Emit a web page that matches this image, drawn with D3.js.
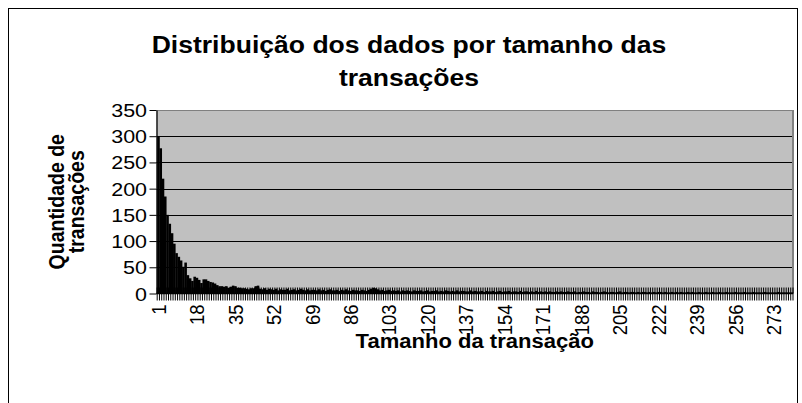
<!DOCTYPE html>
<html>
<head>
<meta charset="utf-8">
<script src="https://cdn.jsdelivr.net/npm/d3@7"></script>
<style>
  body { margin: 0; background: #fff; }
  text { font-family: "Liberation Sans", Arial, sans-serif; fill: #000; }
</style>
</head>
<body>
<svg id="chart"></svg>
<script>
// transaction sizes 1..281 and how many transactions of each size
var values = [
  300, 277, 219, 185, 150, 133, 115, 95, 77, 70,
  63, 51, 59, 35, 29, 24, 32, 30, 26, 20,
  27, 27, 24, 22, 21, 19, 16, 14, 14, 13,
  14, 11, 13, 15, 14, 11, 11, 10, 10, 9,
  8, 10, 10, 14, 15, 9, 8, 10, 7, 9,
  8, 7, 9, 6, 8, 7, 7, 9, 6, 7,
  8, 6, 7, 9, 7, 6, 8, 6, 7, 7,
  6, 8, 6, 7, 5, 7, 8, 6, 6, 7,
  5, 7, 6, 8, 6, 5, 7, 6, 6, 5,
  7, 6, 5, 7, 9, 11, 10, 8, 6, 7,
  5, 6, 7, 5, 6, 5, 6, 4, 6, 5,
  6, 5, 4, 6, 5, 5, 6, 4, 5, 6,
  4, 5, 5, 6, 4, 5, 4, 6, 5, 4,
  5, 4, 6, 4, 5, 5, 4, 4, 6, 4,
  5, 4, 4, 5, 3, 5, 4, 4, 5, 3,
  4, 5, 3, 4, 4, 5, 3, 4, 4, 3,
  5, 3, 4, 4, 3, 4, 3, 5, 3, 4,
  3, 4, 3, 4, 3, 3, 4, 3, 4, 3,
  3, 4, 3, 3, 4, 2, 3, 3, 4, 3,
  3, 2, 4, 3, 3, 2, 3, 4, 3, 2,
  3, 3, 2, 3, 4, 2, 3, 3, 2, 3,
  3, 2, 3, 2, 3, 3, 2, 3, 2, 3,
  2, 3, 3, 2, 3, 2, 2, 3, 2, 3,
  2, 3, 2, 2, 3, 2, 3, 2, 2, 3,
  2, 2, 3, 2, 2, 3, 2, 2, 3, 2,
  2, 3, 2, 2, 2, 3, 2, 2, 2, 3,
  2, 2, 2, 3, 2, 2, 2, 2, 3, 2,
  2, 2, 2, 2, 3, 2, 2, 2, 2, 2, 2
];
var categories = values.map(function(d, i){ return i + 1; });
var xTickLabels = [1, 18, 35, 52, 69, 86, 103, 120, 137, 154, 171, 188, 205, 222, 239, 256, 273];
var yTicks = [0, 50, 100, 150, 200, 250, 300, 350];

var width = 802;
var height = 403;
var sx = 1.13; // text in the picture is a bit wider than tall

var plot = {left: 156.5, right: 793, top: 110, bottom: 293.5};

var svg = d3.select('#chart')
            .attr('width', width)
            .attr('height', height);

// outer chart border
svg.append('rect')
   .attr('x', 8.5).attr('y', 8.5)
   .attr('width', 789).attr('height', 420)
   .attr('fill', '#fff')
   .attr('stroke', '#000')
   .attr('stroke-width', 1);

var x = d3.scaleBand()
          .domain(categories)
          .range([plot.left + 0.7, plot.right])
          .padding(0);

var y = d3.scaleLinear()
          .domain([0, 350])
          .range([plot.bottom, plot.top]);

// plot area
svg.append('rect')
   .attr('x', plot.left).attr('y', plot.top)
   .attr('width', plot.right - plot.left)
   .attr('height', plot.bottom - plot.top)
   .attr('fill', '#c0c0c0');

// gridlines
svg.selectAll('line.grid')
   .data(yTicks.filter(function(d){ return d > 0 && d < 350; }))
   .enter()
   .append('line')
   .attr('class', 'grid')
   .attr('x1', plot.left).attr('x2', plot.right)
   .attr('y1', function(d){ return Math.round(y(d)) + 0.5; })
   .attr('y2', function(d){ return Math.round(y(d)) + 0.5; })
   .attr('stroke', '#000');

// plot border top and right
svg.append('line')
   .attr('x1', plot.left).attr('x2', plot.right)
   .attr('y1', plot.top + 0.5).attr('y2', plot.top + 0.5)
   .attr('stroke', '#808080');
svg.append('line')
   .attr('x1', plot.right).attr('x2', plot.right)
   .attr('y1', plot.top).attr('y2', plot.bottom)
   .attr('stroke', '#808080')
   .attr('stroke-width', 2);

// bars
svg.selectAll('rect.bar')
   .data(values)
   .enter()
   .append('rect')
   .attr('class', 'bar')
   .attr('x', function(d, i){ return x(categories[i]); })
   .attr('y', function(d){ return y(d); })
   .attr('width', x.bandwidth() + 0.3)
   .attr('height', function(d){ return y(0) - y(d); })
   .attr('fill', '#000');

// y axis
var yAxis = svg.append('g')
               .attr('transform', 'translate(' + plot.left + ',0)')
               .call(d3.axisLeft(y).tickValues(yTicks).tickSize(7).tickSizeOuter(0).tickPadding(3));
yAxis.select('.domain').attr('stroke', '#000').attr('stroke-width', 1.3);
yAxis.selectAll('.tick line').attr('stroke', '#000');
yAxis.selectAll('.tick text')
     .attr('font-size', 19)
     .attr('font-family', '"Liberation Sans", Arial, sans-serif')
     .attr('fill', '#000')
     .attr('dy', null)
     .attr('x', null)
     .attr('transform', 'translate(-9.5,0) scale(' + sx + ',1)')
     .attr('dominant-baseline', 'central');

// x axis line
svg.append('line')
   .attr('x1', plot.left).attr('x2', plot.right)
   .attr('y1', plot.bottom).attr('y2', plot.bottom)
   .attr('stroke', '#000')
   .attr('stroke-width', 1.5);

// category tick marks (crossing the axis) at every band edge
var edges = categories.map(function(c){ return x(c); }).concat([plot.right]);
svg.selectAll('line.ctick')
   .data(edges)
   .enter()
   .append('line')
   .attr('class', 'ctick')
   .attr('x1', function(d){ return d; })
   .attr('x2', function(d){ return d; })
   .attr('y1', plot.bottom - 6)
   .attr('y2', plot.bottom + 7)
   .attr('stroke', '#000')
   .attr('stroke-width', 1);

// x tick labels
svg.selectAll('text.xlab')
   .data(xTickLabels)
   .enter()
   .append('text')
   .attr('class', 'xlab')
   .attr('transform', function(d){
     return 'translate(' + (x(d) + x.bandwidth() / 2) + ',' + (plot.bottom + 11) + ') rotate(-90) scale(1,' + sx + ')';
   })
   .attr('text-anchor', 'end')
   .attr('dy', '0.35em')
   .attr('font-size', 18.5)
   .text(function(d){ return d; });

// title
var title = svg.append('text')
               .attr('transform', 'translate(409,0) scale(' + sx + ',1)')
               .attr('text-anchor', 'middle')
               .attr('font-size', 23.5)
               .attr('font-weight', 'bold');
title.append('tspan').attr('x', 0).attr('y', 53).text('Distribuição dos dados por tamanho das');
title.append('tspan').attr('x', 0).attr('y', 86).text('transações');

// x axis title
svg.append('text')
   .attr('transform', 'translate(' + (plot.left + plot.right) / 2 + ',348) scale(' + sx + ',1)')
   .attr('text-anchor', 'middle')
   .attr('font-size', 19.5)
   .attr('font-weight', 'bold')
   .text('Tamanho da transação');

// y axis title
var ytitle = svg.append('text')
                .attr('transform', 'translate(0,' + (plot.top + plot.bottom) / 2 + ') rotate(-90) scale(1,' + sx + ')')
                .attr('text-anchor', 'middle')
                .attr('font-size', 19.5)
                .attr('font-weight', 'bold');
ytitle.append('tspan').attr('x', 0).attr('y', 56 / sx).attr('dy', '0.35em').text('Quantidade de');
ytitle.append('tspan').attr('x', 0).attr('y', 76 / sx).attr('dy', '0.35em').text('transações');
</script>
</body>
</html>
